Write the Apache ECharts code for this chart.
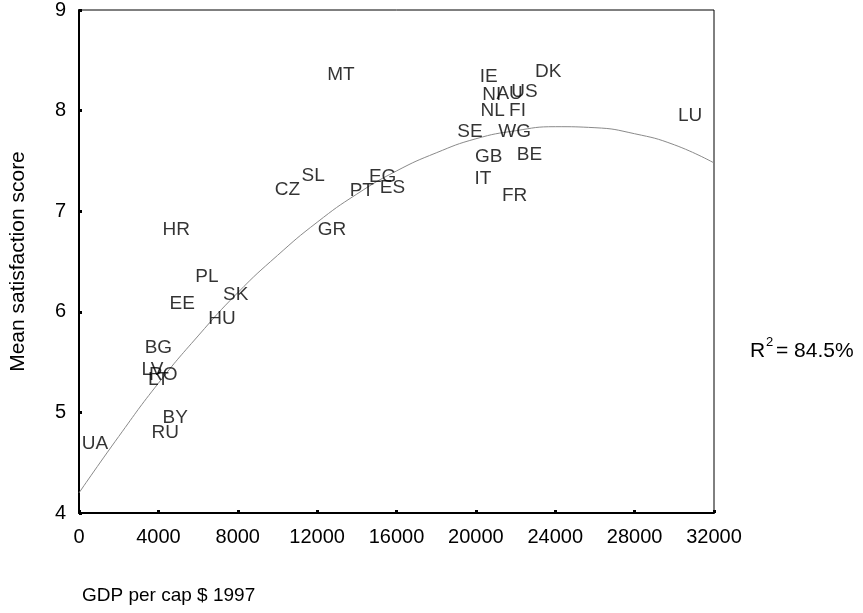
<!DOCTYPE html>
<html>
<head>
<meta charset="utf-8">
<script src="https://cdn.jsdelivr.net/npm/echarts@6/dist/echarts.min.js"></script>
<style>html,body{margin:0;padding:0;background:#fff}#c{width:863px;height:613px}</style>
</head>
<body>
<div id="c"></div>
<script>
// Country codes
const countries = ['MT','IE','DK','NI','AU','US','NL','FI','SE','WG','GB','BE','IT','FR','LU','SL','CZ','EG','PT','ES','GR','HR','PL','SK','EE','HU','BG','LV','RO','LT','BY','RU','UA'];
// GDP per capita, $ 1997
const gdp = [13200,20650,23650,20800,21700,22450,20850,22100,19700,21950,20650,22700,20350,21950,30800,11800,10500,15300,14250,15800,12750,4900,6450,7900,5200,7200,4000,3700,4250,4000,4850,4350,800];
// Mean satisfaction score
const satisfaction = [8.36,8.34,8.39,8.16,8.17,8.19,8.00,8.00,7.79,7.79,7.54,7.56,7.32,7.15,7.95,7.35,7.21,7.34,7.20,7.23,6.82,6.82,6.35,6.17,6.08,5.93,5.64,5.42,5.37,5.32,4.95,4.80,4.69];
// Quadratic fit curve
const fitX = [0,2000,4000,6000,8000,10000,12000,14000,16000,18000,20000,22000,24000,26000,28000,30000,32000];
const fitY = [4.20,4.76,5.29,5.76,6.19,6.56,6.89,7.17,7.40,7.58,7.72,7.80,7.84,7.83,7.77,7.66,7.48];
const xTicks = [0,4000,8000,12000,16000,20000,24000,28000,32000];
const yTicks = [4,5,6,7,8,9];
const rSquaredText = '84.5%';

const fitLine = fitX.map((x, i) => [x, fitY[i]]);
const pts = countries.map((n, i) => ({ name: n, value: [gdp[i], satisfaction[i]] }));
const FONT = '"Liberation Sans", Arial, sans-serif';

const chart = echarts.init(document.getElementById('c'), null, { renderer: 'canvas' });
chart.setOption({
  backgroundColor: '#fff',
  animation: false,
  grid: { left: 79, top: 8, right: 149, bottom: 100, show: true, borderColor: '#000', borderWidth: 1 },
  xAxis: {
    type: 'value', min: xTicks[0], max: xTicks[xTicks.length - 1], interval: xTicks[1] - xTicks[0],
    axisLine: { show: true, onZero: false, lineStyle: { color: '#000', width: 2 } },
    axisTick: { show: true, inside: true, length: 3, lineStyle: { color: '#000', width: 3 } },
    axisLabel: { color: '#000', fontSize: 20, fontFamily: FONT, margin: 14, formatter: v => String(v) },
    splitLine: { show: false }
  },
  yAxis: {
    type: 'value', min: yTicks[0], max: yTicks[yTicks.length - 1], interval: 1,
    name: 'Mean satisfaction score', nameLocation: 'middle', nameGap: 50,
    nameTextStyle: { color: '#000', fontSize: 21, fontFamily: FONT },
    axisLine: { show: true, onZero: false, lineStyle: { color: '#000', width: 2 } },
    axisTick: { show: true, inside: true, length: 3, lineStyle: { color: '#000', width: 3 } },
    axisLabel: { color: '#000', fontSize: 20, fontFamily: FONT, margin: 13 },
    splitLine: { show: false }
  },
  series: [
    {
      type: 'line', data: fitLine, showSymbol: false, symbol: 'none', silent: true, smooth: true,
      lineStyle: { color: '#8a8a8a', width: 1 }, z: 1
    },
    {
      type: 'scatter', data: pts, symbolSize: 1,
      itemStyle: { color: 'rgba(0,0,0,0)' },
      label: { show: true, position: 'inside', formatter: p => p.name, color: '#000', fontSize: 19, fontFamily: FONT },
      z: 2
    }
  ],
  graphic: [
    { type: 'text', left: 82, top: 586,
      style: { text: 'GDP per cap $ 1997', fontSize: 19, fontFamily: FONT, fill: '#000' } },
    { type: 'text', x: 750, y: 351,
      style: { text: 'R', fontSize: 21, fontFamily: FONT, fill: '#000', textVerticalAlign: 'middle', verticalAlign: 'middle' } },
    { type: 'text', x: 766, y: 342,
      style: { text: '2', fontSize: 13, fontFamily: FONT, fill: '#000', textVerticalAlign: 'middle', verticalAlign: 'middle' } },
    { type: 'text', x: 776, y: 351,
      style: { text: '= ' + rSquaredText, fontSize: 21, fontFamily: FONT, fill: '#000', textVerticalAlign: 'middle', verticalAlign: 'middle' } }
  ]
});
</script>
</body>
</html>
